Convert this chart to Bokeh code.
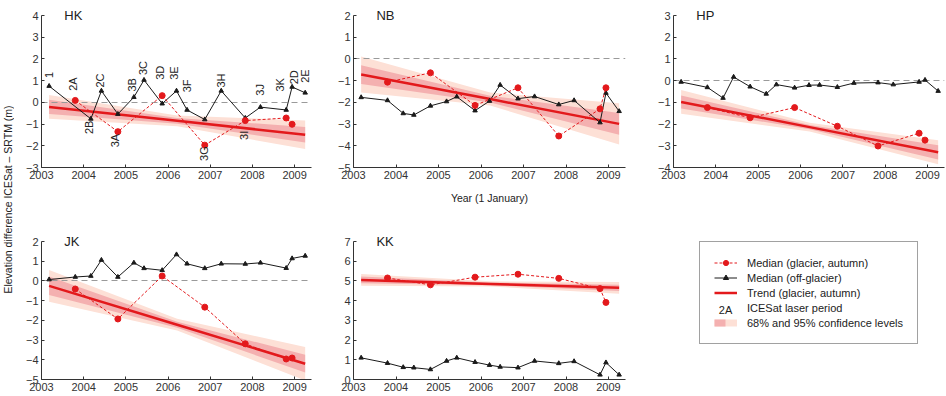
import math
from bokeh.plotting import figure
from bokeh.layouts import row, column
from bokeh.models import Range1d, FixedTicker, Label, Legend, LegendItem
from bokeh.embed import file_html
from bokeh.resources import INLINE
from bokeh.core.properties import value

# ---------------- data ----------------
periods = ["1", "2A", "2B", "2C", "3A", "3B", "3C", "3D", "3E", "3F",
           "3G", "3H", "3I", "3J", "3K", "2D", "2E"]
period_dates = [2003.18, 2003.80, 2004.17, 2004.42, 2004.81, 2005.19, 2005.43,
                2005.86, 2006.20, 2006.45, 2006.87, 2007.26, 2007.83, 2008.19,
                2008.80, 2008.94, 2009.25]
glacier_periods = ["2A", "3A", "3D", "3G", "3I", "3K", "2D"]
year_ticks = [2003, 2004, 2005, 2006, 2007, 2008, 2009]

hk_offglacier = [0.75, None, -0.76, 0.53, -0.54, 0.24, 1.03, -0.06, 0.53, -0.35,
                 -0.79, 0.53, -0.72, -0.22, -0.35, 0.71, 0.44]
hk_glacier = [0.09, -1.35, 0.31, -1.97, -0.84, -0.72, -1.01]
hk_trend = [-0.21, -0.85, -1.49]
hk_ci68 = [0.33, 0.13, 0.36]
hk_ci95 = [0.55, 0.25, 0.66]
hk_yticks = [-3, -2, -1, 0, 1, 2, 3, 4]

nb_offglacier = [-1.77, -1.91, -2.51, -2.58, -2.16, -1.96, -1.74, -2.38, -1.94, -1.20,
                 -1.83, -1.73, -2.10, -1.91, -2.93, -1.57, -2.41]
nb_glacier = [-1.07, -0.64, -2.14, -1.33, -3.55, -2.30, -1.33]
nb_trend = [-0.72, -1.85, -2.99]
nb_ci68 = [0.43, 0.16, 0.50]
nb_ci95 = [0.83, 0.30, 0.95]
nb_yticks = [-5, -4, -3, -2, -1, 0, 1, 2]

hp_offglacier = [-0.06, -0.31, -0.80, 0.17, -0.28, -0.61, -0.18, -0.33, -0.21, -0.20,
                 -0.30, -0.11, -0.09, -0.18, -0.06, 0.03, -0.48]
hp_glacier = [-1.24, -1.71, -1.24, -2.10, -3.01, -2.42, -2.74]
hp_trend = [-0.98, -2.14, -3.30]
hp_ci68 = [0.30, 0.10, 0.33]
hp_ci95 = [0.55, 0.20, 0.55]
hp_yticks = [-4, -3, -2, -1, 0, 1, 2, 3]

jk_offglacier = [0.07, 0.20, 0.25, 1.06, 0.20, 0.92, 0.64, 0.54, 1.34, 0.87,
                 0.64, 0.87, 0.86, 0.92, 0.65, 1.14, 1.27]
jk_glacier = [-0.41, -1.93, 0.25, -1.33, -3.19, -3.96, -3.91]
jk_trend = [-0.25, -2.22, -4.20]
jk_ci68 = [0.47, 0.15, 0.45]
jk_ci95 = [0.80, 0.30, 0.85]
jk_yticks = [-5, -4, -3, -2, -1, 0, 1, 2]

kk_offglacier = [1.10, 0.83, 0.62, 0.60, 0.51, 0.94, 1.10, 0.88, 0.73, 0.64,
                 0.60, 0.94, 0.82, 0.92, 0.24, 0.86, 0.24]
kk_glacier = [5.15, 4.80, 5.19, 5.34, 5.13, 4.61, 3.91]
kk_trend = [5.05, 4.85, 4.65]
kk_ci68 = [0.17, 0.07, 0.16]
kk_ci95 = [0.30, 0.13, 0.30]
kk_yticks = [0, 1, 2, 3, 4, 5, 6, 7]

# ---------------- style ----------------
FONT = "Liberation Sans"
RED = "#e3191c"
BAND68 = "#f4b0b0"
BAND95 = "#fde0d6"
BLACK = "#1a1a1a"
AXIS = "#333333"
XMAX = 2009.4

# HK laser-period label placement (side: +1 above, -1 below; gap in metres; x nudge in years)
hk_label_side = [1, 1, -1, 1, -1, 1, 1, 1, 1, 1, -1, 1, -1, 1, 1, 1, 1]
hk_label_gap = [0.37, 0.44, 0.08, 0.15, 0.10, 0.26, 0.23, 0.73, 0.51, 0.81,
                0.05, 0.15, 0.47, 0.53, 0.85, 0.12, 0.46]
hk_label_nudge = [0, -0.05, -0.05, -0.03, -0.06, -0.04, -0.03, -0.05, -0.05, 0,
                  -0.02, 0, -0.02, 0, -0.14, 0.05, 0]


def style_axes(p, yticks):
    p.xaxis.ticker = FixedTicker(ticks=year_ticks)
    p.yaxis.ticker = FixedTicker(ticks=yticks)
    p.yaxis.major_label_overrides = {t: str(t).replace("-", "\u2212") for t in yticks}
    for ax in p.axis:
        ax.major_tick_in = 3
        ax.major_tick_out = 0
        ax.minor_tick_line_color = None
        ax.axis_line_color = AXIS
        ax.major_tick_line_color = AXIS
        ax.major_label_text_font = FONT
        ax.major_label_text_font_size = "11px"
        ax.major_label_text_color = AXIS
        ax.major_label_standoff = 3


def make_panel(name, off, gla, trend, ci68, ci95, yticks, width, height,
               borders, xlabel=None, labels=False):
    bl, br, bt, bb = borders
    p = figure(width=width, height=height,
               x_range=Range1d(year_ticks[0], XMAX),
               y_range=Range1d(min(yticks), max(yticks)),
               output_backend="svg", toolbar_location=None,
               min_border_left=bl, min_border_right=br,
               min_border_top=bt, min_border_bottom=bb,
               outline_line_color=None)
    p.grid.visible = False
    style_axes(p, yticks)
    if xlabel:
        p.xaxis.axis_label = xlabel
        p.xaxis.axis_label_text_font = FONT
        p.xaxis.axis_label_text_font_size = "10.5px"
        p.xaxis.axis_label_text_font_style = "normal"
        p.xaxis.axis_label_text_color = "#222222"
        p.xaxis.axis_label_standoff = 10

    bx = [period_dates[0], (period_dates[0] + period_dates[-1]) / 2, period_dates[-1]]
    p.varea(x=bx, y1=[t - w for t, w in zip(trend, ci95)],
            y2=[t + w for t, w in zip(trend, ci95)], fill_color=BAND95)
    p.varea(x=bx, y1=[t - w for t, w in zip(trend, ci68)],
            y2=[t + w for t, w in zip(trend, ci68)], fill_color=BAND68)
    if min(yticks) < 0:
        p.hspan(y=[0], line_color="#9a9a9a", line_dash="6 4", line_width=1)
    p.line(bx, trend, line_color=RED, line_width=2.5)

    ox = [d for d, v in zip(period_dates, off) if v is not None]
    oy = [v for v in off if v is not None]
    p.line(ox, oy, line_color=BLACK, line_width=1)
    p.scatter(ox, oy, marker="triangle", size=4.5, color=BLACK)

    gx = [period_dates[periods.index(g)] for g in glacier_periods]
    p.line(gx, gla, line_color=RED, line_width=1, line_dash="3 2")
    p.scatter(gx, gla, marker="circle", size=6, color=RED)

    # panel name, placed in the top side panel so that it is not clipped by the frame
    p.add_layout(Label(x=year_ticks[0] + 0.54, y=max(yticks), text=name,
                       text_baseline="middle", text_align="left",
                       text_font=FONT, text_font_size="13px",
                       text_color="#222222"), "above")

    if labels:
        gdict = dict(zip(glacier_periods, gla))
        ux, uy, ut, dx, dy, dt = [], [], [], [], [], []
        for per, d, v, s, g, n in zip(periods, period_dates, off, hk_label_side,
                                      hk_label_gap, hk_label_nudge):
            vals = [x for x in (v, gdict.get(per)) if x is not None]
            if s > 0:
                ux.append(d + n); uy.append(max(vals) + g); ut.append(per)
            else:
                dx.append(d + n); dy.append(min(vals) - g); dt.append(per)
        p.text(x=ux, y=uy, text=ut, angle=math.pi / 2, text_align="left",
               text_baseline="middle", text_font=value(FONT),
               text_font_size="11px", text_color="#222222")
        p.text(x=dx, y=dy, text=dt, angle=math.pi / 2, text_align="right",
               text_baseline="middle", text_font=value(FONT),
               text_font_size="11px", text_color="#222222")
    return p


TOP_H, BOT_H = 208, 188
hk = make_panel("HK", hk_offglacier, hk_glacier, hk_trend, hk_ci68, hk_ci95, hk_yticks,
                309, TOP_H, (27, 12, 8, 41), labels=True)
nb = make_panel("NB", nb_offglacier, nb_glacier, nb_trend, nb_ci68, nb_ci95, nb_yticks,
                312, TOP_H, (30, 10, 8, 41), xlabel="Year (1 January)")
hp = make_panel("HP", hp_offglacier, hp_glacier, hp_trend, hp_ci68, hp_ci95, hp_yticks,
                311, TOP_H, (38, 2, 8, 41))
jk = make_panel("JK", jk_offglacier, jk_glacier, jk_trend, jk_ci68, jk_ci95, jk_yticks,
                309, BOT_H, (27, 12, 12, 17))
kk = make_panel("KK", kk_offglacier, kk_glacier, kk_trend, kk_ci68, kk_ci95, kk_yticks,
                312, BOT_H, (30, 10, 12, 17))

# ---------------- legend panel ----------------
LW, LH, LBL, LBT = 311, BOT_H, 64, 33
lf = figure(width=LW, height=LH, x_range=Range1d(0, LW - LBL), y_range=Range1d(0, LH - LBT),
            x_axis_location=None, y_axis_location=None,
            min_border_left=LBL, min_border_top=LBT, min_border_right=0, min_border_bottom=0,
            output_backend="svg", toolbar_location=None, outline_line_color=None)
lf.grid.visible = False
# legend proxies: fed with real series but lying outside this panel's ranges
r1a = lf.line(x=period_dates, y=kk_offglacier, line_color=RED, line_width=1, line_dash="3 2")
r1b = lf.scatter(x=period_dates, y=kk_offglacier, marker="circle", color=RED)
r2a = lf.line(x=period_dates, y=kk_offglacier, line_color=BLACK, line_width=1)
r2b = lf.scatter(x=period_dates, y=kk_offglacier, marker="triangle", color=BLACK)
r3 = lf.line(x=period_dates, y=kk_offglacier, line_color=RED, line_width=2.5)
r4 = lf.line(x=period_dates, y=kk_offglacier, line_alpha=0)
r5a = lf.line(x=period_dates, y=kk_offglacier, line_color=BAND95, line_width=7)
r5b = lf.line(x=period_dates, y=kk_offglacier, line_color=BAND68, line_width=7, line_dash="11 40")
legend = Legend(items=[
    LegendItem(label="Median (glacier, autumn)", renderers=[r1a, r1b]),
    LegendItem(label="Median (off-glacier)", renderers=[r2a, r2b]),
    LegendItem(label="Trend (glacier, autumn)", renderers=[r3]),
    LegendItem(label="ICESat laser period", renderers=[r4]),
    LegendItem(label="68% and 95% confidence levels", renderers=[r5a, r5b]),
], location="top_left", margin=0, padding=14, spacing=2, label_height=13,
    glyph_height=13, glyph_width=23, label_standoff=10,
    label_text_font=FONT, label_text_font_size="11px", label_text_color="#222222",
    border_line_color="#444444", border_line_width=1,
    background_fill_alpha=0)
lf.add_layout(Label(x=26, y=LH - LBT - 77, text="2A", text_align="center",
                    text_baseline="middle", text_font=FONT, text_font_size="11px",
                    text_color="#222222"))
lf.add_layout(legend)

# ---------------- y axis title ----------------
yl = figure(width=14, height=TOP_H + BOT_H, x_range=Range1d(0, 14),
            y_range=Range1d(0, TOP_H + BOT_H), x_axis_location=None, y_axis_location=None,
            min_border_left=0, min_border_right=0, min_border_top=0, min_border_bottom=0,
            output_backend="svg", toolbar_location=None, outline_line_color=None)
yl.grid.visible = False
yl.add_layout(Label(x=7, y=(TOP_H + BOT_H) / 2 - 1, text="Elevation difference ICESat \u2013 SRTM (m)",
                    angle=math.pi / 2, text_align="center", text_baseline="middle",
                    text_font=FONT, text_font_size="10.5px", text_color="#222222"))

layout = row(yl, column(row(hk, nb, hp), row(jk, kk, lf)))
open("out.html", "w").write(file_html(layout, INLINE))
